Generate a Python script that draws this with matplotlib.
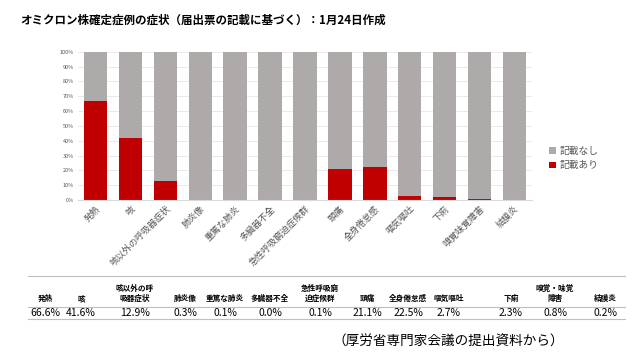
import matplotlib
matplotlib.use("Agg")
from matplotlib import pyplot as plt
import numpy as np

plt.rcParams['font.family'] = ['Noto Sans CJK JP', 'DejaVu Sans']

categories = ["発熱", "咳", "咳以外の呼吸器症状", "肺炎像", "重篤な肺炎", "多臓器不全",
              "急性呼吸窮迫症候群", "頭痛", "全身倦怠感", "嘔気嘔吐", "下痢",
              "嗅覚味覚障害", "結膜炎"]
ari = [66.6, 41.6, 12.9, 0.3, 0.1, 0.0, 0.1, 21.1, 22.5, 2.7, 2.3, 0.8, 0.2]
nashi = [33.4, 58.4, 87.1, 99.7, 99.9, 100.0, 99.9, 78.9, 77.5, 97.3, 97.7, 99.2, 99.8]
table_headers = ["発熱", "咳", "咳以外の呼\n吸器症状", "肺炎像", "重篤な肺炎", "多臓器不全",
                 "急性呼吸窮\n迫症候群", "頭痛", "全身倦怠感", "嘔気嘔吐", "下痢",
                 "嗅覚・味覚\n障害", "結膜炎"]
table_x = [45, 81, 135, 185, 225, 270, 320, 367, 408, 449, 511, 555, 605]

red = "#C00000"
gray = "#AEAAAA"

fig = plt.figure(figsize=(6.4, 3.59), dpi=100)
W, H = 640, 359
ax = fig.add_axes([78 / W, 1 - 200 / H, (532 - 78) / W, (200 - 51.7) / H])

x = np.arange(len(categories))
ax.bar(x, ari, width=0.67, color=red, label="記載あり")
ax.bar(x, nashi, bottom=ari, width=0.67, color=gray, label="記載なし")
ax.set_xlim(-0.5, len(categories) - 0.5)
ax.set_ylim(0, 100)
ax.set_yticks(np.arange(0, 101, 10))
ax.set_yticklabels([f"{v}%" for v in range(0, 101, 10)], fontsize=4, color="#595959")
ax.set_xticks(x)
ax.set_xticklabels(categories, rotation=45, ha="right", rotation_mode="anchor",
                   fontsize=6.5, color="#595959")
ax.tick_params(length=0, pad=3)
ax.grid(axis="y", color="#E6E6E6", linewidth=0.6)
ax.set_axisbelow(True)
for s in ["top", "right", "left"]:
    ax.spines[s].set_visible(False)
ax.spines["bottom"].set_color("#D9D9D9")

h, l = ax.get_legend_handles_labels()
fig.legend(h[::-1], l[::-1], loc="center left", bbox_to_anchor=(540 / W, 1 - 158 / H),
           frameon=False, fontsize=7, handlelength=0.7, handleheight=0.7,
           handletextpad=0.4, labelspacing=0.5, labelcolor="#595959")

fig.text(20 / W, 1 - 20 / H, "オミクロン株確定症例の症状（届出票の記載に基づく）：1月24日作成",
         fontsize=8.3, fontweight="bold", va="center", ha="left")

# table below the chart
for yy in [276, 307, 319]:
    fig.add_artist(plt.Line2D([28 / W, 625 / W], [1 - yy / H, 1 - yy / H],
                              color="#BFBFBF", linewidth=0.8))
for hx, ht, v in zip(table_x, table_headers, ari):
    fig.text(hx / W, 1 - 303 / H, ht, fontsize=5.5, fontweight="bold", ha="center",
             va="bottom", linespacing=1.2)
    fig.text(hx / W, 1 - 313 / H, f"{v:.1f}%", fontsize=7.5, ha="center", va="center")

fig.text(333 / W, 1 - 342 / H, "（厚労省専門家会議の提出資料から）",
         fontsize=9.8, ha="left", va="center")

fig.savefig("out.png", dpi=100)
